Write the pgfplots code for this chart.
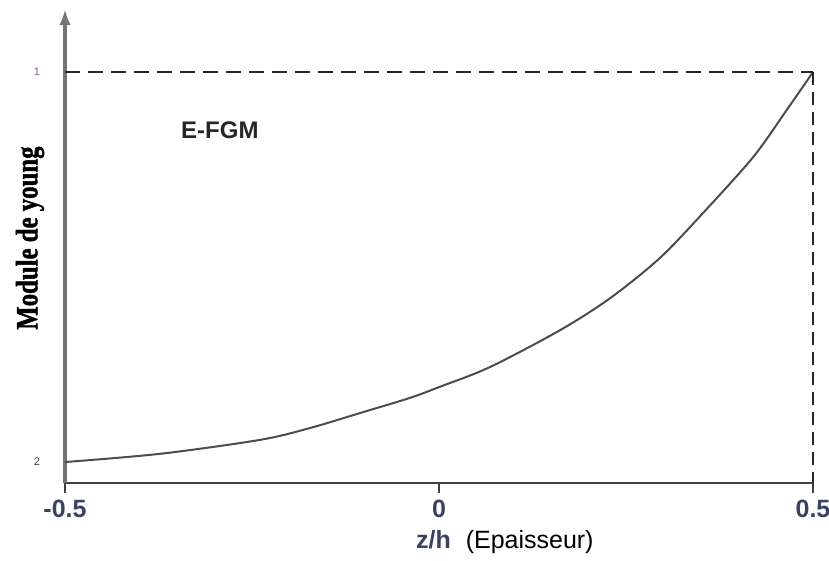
\documentclass[border=0pt]{standalone}
\usepackage{fontspec}
\setmainfont{Liberation Sans}
\newfontfamily\ylabfont[FakeStretch=0.8,FakeBold=1.2]{Liberation Serif}
\usepackage{pgfplots}
\pgfplotsset{compat=1.18}
\definecolor{tickblue}{rgb}{0.22,0.26,0.38}
\definecolor{tickpurple}{rgb}{0.55,0.35,0.55}
\begin{document}
\begin{tikzpicture}
\begin{axis}[
  at={(0,0)}, anchor=south west,
  scale only axis,
  width=374pt, height=236.5pt,
  xmin=-0.5, xmax=0.5, ymin=0, ymax=1.151,
  axis lines=left,
  x axis line style={-, line width=1.2pt, color=black!75},
  y axis line style={-latex, line width=1.6pt, color=black!55},
  clip=false,
  xtick={-0.5,0,0.5},
  xticklabels={-0.5,0,0.5},
  ytick={0.051,1},
  yticklabels={\textcolor{tickblue}{2},\textcolor{tickpurple}{1}},
  tick align=outside,
  major tick length=5pt,
  xtick style={line width=1.2pt, color=black!75},
  ytick style={draw=none},
  /pgf/number format/assume math mode=true,
  xticklabel style={font=\bfseries\fontsize{12.5}{14}\selectfont, text=tickblue},
  yticklabel style={font=\fontsize{5.5}{6}\selectfont, xshift=-4pt},
]
\addplot[line width=1pt, color=black!70, smooth, tension=0.5] coordinates {
(-0.500,0.051) (-0.373,0.071) (-0.239,0.105) (-0.172,0.134) (-0.106,0.170)
(-0.039,0.207) (0.001,0.234) (0.068,0.282) (0.162,0.372) (0.229,0.450)
(0.295,0.547) (0.353,0.657) (0.420,0.793) (0.465,0.908) (0.500,1.000)
};
\draw[line width=1pt, dash pattern=on 7.5pt off 4pt, color=black!85] (axis cs:-0.5,1) -- (axis cs:0.5,1);
\draw[line width=1pt, dash pattern=on 6.5pt off 3.5pt, color=black!85] (axis cs:0.5,1) -- (axis cs:0.5,0);
\node[font=\bfseries\fontsize{12}{14}\selectfont, text=black!85] at (axis cs:-0.293,0.859) {E-FGM};
\node[rotate=90, font=\ylabfont\bfseries\fontsize{15.5}{17}\selectfont] at ([xshift=-17.5pt]axis cs:-0.5,0.596) {Module de young};
\node[font=\fontsize{12.5}{14}\selectfont, anchor=base] at ([yshift=-33pt]axis cs:0.088,0) {\textcolor{tickblue}{\bfseries z/h}\hspace{0.6em}(Epaisseur)};
\end{axis}
\pgfresetboundingbox
\path[use as bounding box] (-32.5pt,-39pt) rectangle (382pt,241.5pt);
\end{tikzpicture}
\end{document}
